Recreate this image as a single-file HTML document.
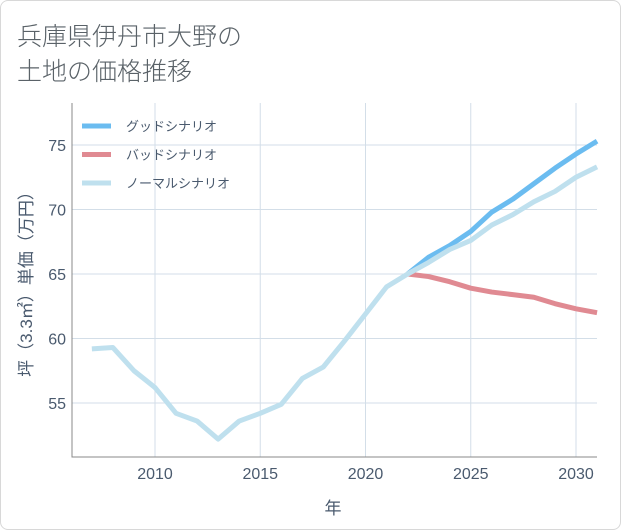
<!DOCTYPE html>
<html><head><meta charset="utf-8"><style>
html,body{margin:0;padding:0;background:#fff;}
body{width:621px;height:530px;overflow:hidden;font-family:"Liberation Sans","Noto Sans CJK JP",sans-serif;}
#frame{position:absolute;left:0;top:0;width:619px;height:528px;border:1px solid #d8d8d8;border-radius:8px;background:#fff;}
.title{position:absolute;left:17px;font-size:25px;color:#5a6268;white-space:nowrap;font-weight:300;}
svg{position:absolute;left:0;top:0;}
</style></head><body>
<div id="frame"></div>
<div class="title" style="top:17px">兵庫県伊丹市大野の</div>
<div class="title" style="top:52px">土地の価格推移</div>
<svg id="chart" width="621" height="530"></svg>
<script>
const years=[2007,2008,2009,2010,2011,2012,2013,2014,2015,2016,2017,2018,2019,2020,2021,2022,2023,2024,2025,2026,2027,2028,2029,2030,2031];
const normalValues=[59.2,59.3,57.5,56.2,54.2,53.6,52.2,53.6,54.2,54.9,56.9,57.8,59.8,61.9,64.0,65.0,65.9,66.9,67.6,68.8,69.6,70.6,71.4,72.5,73.3];
const scenarioYears=[2022,2023,2024,2025,2026,2027,2028,2029,2030,2031];
const goodValues=[65.0,66.3,67.2,68.3,69.8,70.8,72.0,73.2,74.3,75.3];
const badValues=[65.0,64.8,64.4,63.9,63.6,63.4,63.2,62.7,62.3,62.0];
const xTicks=[2010,2015,2020,2025,2030];
const yTicks=[55,60,65,70,75];
const legendLabels=["グッドシナリオ","バッドシナリオ","ノーマルシナリオ"];

const NS="http://www.w3.org/2000/svg";
const svg=document.getElementById('chart');
const L=72,R=597,T=103,B=457;
const x=v=>155+(v-2010)*(576-155)/20;
const y=v=>145+(75-v)*(403-145)/20;
function mk(tag,attrs,parent){const e=document.createElementNS(NS,tag);for(const k in attrs)e.setAttribute(k,attrs[k]);(parent||svg).appendChild(e);return e;}

const grid=mk('g',{});


xTicks.forEach(t=>{
  const l=mk('line',{x1:x(t),x2:x(t),y1:T,y2:B,stroke:'#d3dee8','stroke-width':1},grid);
  
  
  const tx=mk('text',{x:x(t),y:479,'text-anchor':'middle','font-size':16,fill:'#4a5a6e'});
  tx.textContent=t;
  
  
});
yTicks.forEach(t=>{
  const l=mk('line',{x1:L,x2:R,y1:y(t),y2:y(t),stroke:'#d3dee8','stroke-width':1},grid);
  
  
  const tx=mk('text',{x:66,y:y(t)+6,'text-anchor':'end','font-size':16,fill:'#4a5a6e'});
  tx.textContent=t;
  
  
});
const ax=mk('path',{d:`M${L},${T}V${B}H${R}`,fill:'none',stroke:'#888','stroke-width':1});



function line(xs,vs,color,name){
  const p=mk('polyline',{points:xs.map((t,i)=>x(t)+','+y(vs[i])).join(' '),fill:'none',stroke:color,'stroke-width':5,'stroke-linejoin':'round'});
  
  
}
line(scenarioYears,badValues,'#e08a92','bad-scenario-line');
line(scenarioYears,goodValues,'#6bbcf0','good-scenario-line');
line(years,normalValues,'#bfe0ee','normal-scenario-line');

const colors=['#6bbcf0','#e08a92','#bfe0ee'];
legendLabels.forEach((lb,i)=>{
  const g=mk('g',{});
  
  
  const yy=126+i*28.5;
  mk('line',{x1:82,x2:111,y1:yy,y2:yy,stroke:colors[i],'stroke-width':5},g);
  const t=mk('text',{x:126,y:yy+5,'font-size':13,fill:'#4a5a6e'},g);
  t.textContent=lb;
});
const xt=mk('text',{x:333,y:514,'text-anchor':'middle','font-size':17,fill:'#4a5a6e'});
xt.textContent='年';


const yt=mk('text',{x:0,y:0,'text-anchor':'middle','font-size':17,fill:'#4a5a6e',transform:'translate(32,280) rotate(-90)'});
yt.textContent='坪（3.3㎡）単価（万円）';


</script>
</body></html>
